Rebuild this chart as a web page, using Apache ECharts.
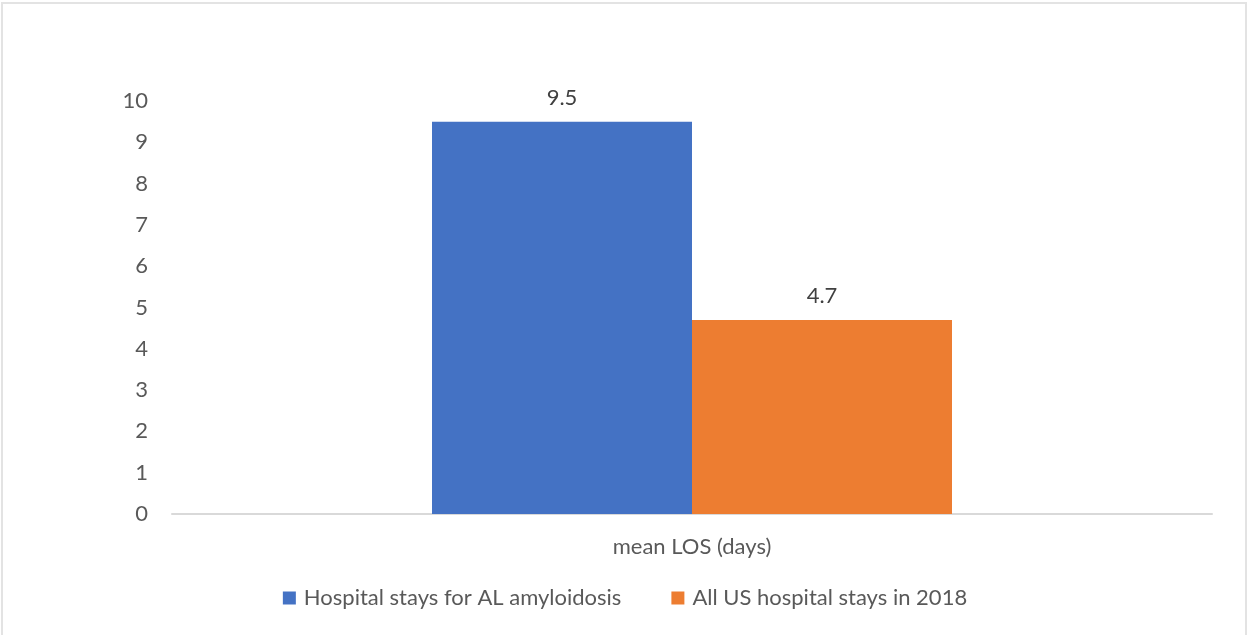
<!DOCTYPE html>
<html><head><meta charset="utf-8">
<script src="https://cdn.jsdelivr.net/npm/echarts@6/dist/echarts.min.js"></script>
<style>
html,body{margin:0;padding:0;background:#fff;}
#frame{position:absolute;left:1px;top:2px;width:1246px;height:640px;border:2px solid #e3e3e3;box-sizing:border-box;}
#chart{position:absolute;left:0;top:0;width:1250px;height:635px;}
</style>
</head><body>
<div id="frame"></div>
<div id="chart"></div>
<script>
var categories = ['mean LOS (days)'];
var seriesNames = ['Hospital stays for AL amyloidosis', 'All US hospital stays in 2018'];
var alValues = [9.5];
var usValues = [4.7];
var colors = ['#4472C4', '#ED7D31'];

var FONT = 'Lato';
var FS = 22;
var chart = echarts.init(document.getElementById('chart'), null, {renderer: 'canvas'});
chart.setOption({
  animation: false,
  backgroundColor: 'transparent',
  grid: {left: 172, right: 38, top: 101, bottom: 121},
  legend: {
    bottom: 21, left: 'center',
    itemWidth: 13, itemHeight: 13, itemGap: 50,
    icon: 'rect',
    textStyle: {color: '#595959', fontSize: FS, fontFamily: FONT, padding: [0,0,0,3]},
    data: seriesNames
  },
  xAxis: {
    type: 'category', data: categories,
    axisLine: {lineStyle: {color: '#d9d9d9', width: 2}},
    axisTick: {show: false},
    axisLabel: {color: '#595959', fontSize: FS, fontFamily: FONT, margin: 22}
  },
  yAxis: {
    type: 'value', min: 0, max: 10, interval: 1,
    axisLine: {show: false}, axisTick: {show: false},
    splitLine: {show: false},
    axisLabel: {color: '#595959', fontSize: FS, fontFamily: FONT, margin: 24}
  },
  series: [
    {name: seriesNames[0], type: 'bar', data: alValues, barGap: '0%', barCategoryGap: '50%',
     itemStyle: {color: colors[0]},
     label: {show: true, position: 'top', distance: 13, color: '#404040', fontSize: FS, fontFamily: FONT}},
    {name: seriesNames[1], type: 'bar', data: usValues,
     itemStyle: {color: colors[1]},
     label: {show: true, position: 'top', distance: 13, color: '#404040', fontSize: FS, fontFamily: FONT}}
  ]
});
</script>
</body></html>
